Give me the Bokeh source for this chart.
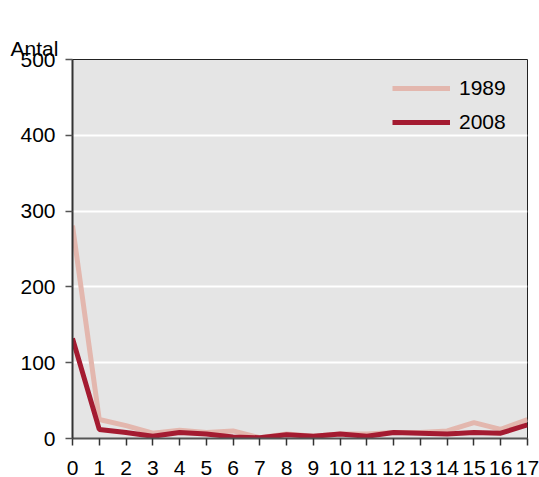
from bokeh.plotting import figure
from bokeh.models import Range1d, FixedTicker, Legend, LegendItem, Title
from bokeh.embed import file_html
from bokeh.resources import INLINE

ages = list(range(18))
tick_labels = [str(a) for a in ages]
y_ticks = [0, 100, 200, 300, 400, 500]
s1989 = [281, 25, 17, 7, 11, 8, 10, 1, 6, 3, 6, 6, 8, 8, 10, 21, 12, 25]
s2008 = [132, 12, 8, 3, 8, 6, 2, 1, 5, 3, 6, 3, 8, 7, 6, 8, 7, 18]
y_title = "Antal"

FONT = "Liberation Sans"
FS = "21px"

p = figure(width=539, height=477, output_backend="svg", toolbar_location=None,
           title=None,
           x_range=Range1d(0, 17), y_range=Range1d(0, 500),
           min_border_left=72, min_border_right=12, min_border_top=59, min_border_bottom=39)
p.background_fill_color = "#E5E5E5"
p.border_fill_color = "white"
p.outline_line_color = "#222222"
p.outline_line_width = 1

p.xgrid.visible = False
p.ygrid.grid_line_color = "white"
p.ygrid.grid_line_width = 2
p.ygrid.ticker = FixedTicker(ticks=y_ticks)

p.xaxis.ticker = FixedTicker(ticks=ages)
p.xaxis.major_label_overrides = {a: l for a, l in zip(ages, tick_labels)}
p.yaxis.ticker = FixedTicker(ticks=y_ticks)
for ax in (p.xaxis[0], p.yaxis[0]):
    ax.major_label_text_font = FONT
    ax.major_label_text_font_size = FS
    ax.major_label_text_color = "black"
    ax.minor_tick_line_color = None
    ax.major_tick_in = 0
    ax.major_tick_out = 7
    ax.major_tick_line_width = 1.5
    ax.axis_line_width = 2
p.xaxis.axis_line_color = "#555555"
p.xaxis.major_tick_line_color = "#333333"
p.yaxis.axis_line_color = "#333333"
p.yaxis.major_tick_line_color = "#555555"
p.xaxis.major_label_standoff = 15
p.yaxis.major_label_standoff = 10

# invisible spacer title next to the frame, then the "Antal" title above it
spacer = Title(text=".", text_font_size="1px", text_alpha=0, text_color="white", standoff=21)
p.add_layout(spacer, "above")
t = Title(text=y_title, align="left", offset=-62, text_font=FONT, text_font_size=FS,
          text_font_style="normal", text_color="black", standoff=0,
          vertical_align="bottom")
p.add_layout(t, "above")

r1 = p.line(ages, s1989, line_color="#E3B7AE", line_width=5)
r2 = p.line(ages, s2008, line_color="#A41B31", line_width=5)

legend = Legend(items=[LegendItem(label="1989", renderers=[r1]),
                       LegendItem(label="2008", renderers=[r2])],
                location=(320, 304))
legend.background_fill_color = "#E5E5E5"
legend.background_fill_alpha = 1
legend.border_line_color = None
legend.label_text_font = FONT
legend.label_text_font_size = FS
legend.label_text_color = "black"
legend.glyph_width = 58
legend.glyph_height = 24
legend.label_height = 24
legend.label_width = 49
legend.label_standoff = 9
legend.padding = 7
legend.spacing = 10
legend.margin = 0
p.add_layout(legend)

open("out.html", "w").write(file_html(p, INLINE))
